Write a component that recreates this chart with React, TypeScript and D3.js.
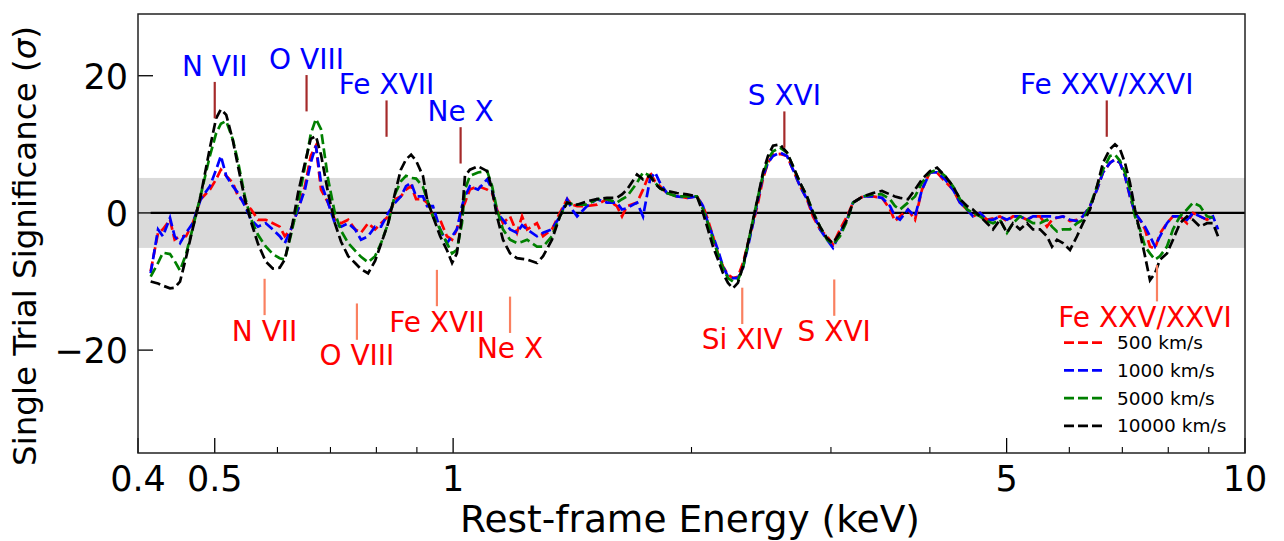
import React from "react";
import * as d3 from "d3";

// ---------- data ----------
const energy = [
  0.415, 0.424, 0.430, 0.439, 0.445, 0.452, 0.460, 0.469, 0.480, 0.493, 0.502, 0.509, 0.517, 0.527, 0.535, 0.546, 0.556, 0.567, 0.580, 0.592, 0.604, 0.613, 0.624, 0.637, 0.650, 0.661, 0.671, 0.681, 0.695, 0.709, 0.722, 0.737, 0.752, 0.765, 0.781, 0.797, 0.811, 0.828, 0.845, 0.859, 0.872, 0.885, 0.898, 0.916,
  0.927, 0.943, 0.963, 0.982, 0.997, 1.011, 1.026, 1.035, 1.050, 1.075, 1.104, 1.120, 1.136, 1.156, 1.180, 1.204, 1.222, 1.240, 1.276, 1.299, 1.333, 1.364, 1.393, 1.413, 1.434, 1.476, 1.519, 1.564, 1.610, 1.634, 1.658, 1.707, 1.737, 1.773, 1.799, 1.825, 1.862, 1.917, 1.974, 2.032, 2.068, 2.098,
  2.129, 2.160, 2.192, 2.224, 2.256, 2.289, 2.323, 2.357, 2.392, 2.427, 2.462, 2.498, 2.535, 2.587, 2.640, 2.687, 2.742, 2.798, 2.847, 2.906, 2.966, 3.018, 3.080, 3.143, 3.199, 3.293, 3.390, 3.480, 3.562, 3.614, 3.667, 3.753, 3.831, 3.909, 4.001, 4.084, 4.180, 4.278,
  4.366, 4.456, 4.534, 4.627, 4.723, 4.806, 4.904, 5.005, 5.093, 5.198, 5.305, 5.398, 5.509, 5.623, 5.705, 5.789, 5.890, 6.012, 6.135, 6.243, 6.372, 6.503, 6.617, 6.753, 6.852, 6.952, 7.054, 7.157, 7.262, 7.369, 7.477, 7.586, 7.697, 7.810, 7.970, 8.111, 8.277, 8.448, 8.597, 8.773, 8.954, 9.111, 9.245,
];

const sig500: (number | null)[] = [
  -8.5, -2.9, -2.4, -1, -3.9, -3.4, -3.4, -1.5, 2, 3.4, 4.9, 6.3, 5.4, 4.4, 2.4, 1.5, 0.5, -1, -1, -1.5, -2, -3.4, -2.4, 0.5, 3.9, 8.3, 9.8, 3.4, 1.5, -1, -1.5, -1, -2.4, -2.9, -1.5, -2.4, -1.5, -0.5, 2, 2.4, 3.4, 3.9, 2, 2,
  1.5, -0.5, -1, -3.4, -3.9, -2.4, 0.5, 1.5, 3.4, 3.9, 3.4, 2.9, 0.5, -1.5, -0.5, -2.9, -0.5, -2.4, -1.5, -3.4, -2.4, 0, 2, 1.2, 1, 1, 1.2, 2, 1, -0.5, 1, 1.5, 3.4, 5.9, 4.6, 3.9, 2.9, 2.4, 2.2, 2.4, 1, -1,
  -3.4, -5.9, -7.8, -9, -9.5, -9.3, -7.3, -4.4, -1.5, 1.5, 5, 7.3, 8.5, 8.6, 8.3, 6.3, 3.9, 2, -0.5, -2.4, -3.4, -4.6, -2.4, -0.5, 1.5, 2.4, 2.4, 2.2, 0.5, -1.2, -0.5, 0.5, -1, 3.4, 5.9, 5.9, 4.6, 3.4,
  1.5, 0.5, -0.5, 0, -1, -0.8, -0.5, -1.2, -0.5, -0.5, -1, -0.5, -0.5, -2, -1, -0.7, -0.5, -1.2, -1, -0.5, 1, 3.4, 5.9, 7.3, 7.8, 7.3, 5.4, 2.4, 0, -1, -2.4, -4.9, -5.2, -3, -1.5, -0.5, -0.5, -1.5, 0, -0.5, -1, -0.5, null,
];

const sig1000: (number | null)[] = [
  -8.8, -2.4, -3.4, -0.7, -3.4, -4.4, -2.9, -1.5, 2, 3.9, 6.3, 8.3, 5.4, 3.9, 2.9, 1, -1, -2, -1.5, -2.4, -3.4, -4.4, -2.4, 0.5, 3.4, 7.3, 9.8, 4.4, 1.5, -1.5, -2, -1.5, -2.4, -3.9, -3.4, -2, -2, 0, 1.5, 2.4, 3.9, 4.4, 2.4, 2.4,
  1, 1, -2.4, -4.4, -3.4, -2.4, 1, 2.4, 3.9, 3.4, 4.9, 3.4, 0, -1, -2.4, -2.9, -1.8, -2.4, -3.4, -2.9, -2.4, -0.5, 2, 0.5, -0.5, 1, 2, 1.5, 1.5, 0.5, 0.7, 1.5, -0.5, 4.9, 5.9, 4.4, 2.9, 2.4, 2.2, 2.4, 1, -1.5,
  -3.4, -5.4, -7.8, -9.3, -9.5, -9.5, -8, -4.9, -1.5, 2, 5.4, 7.3, 8.3, 8.8, 8.3, 6.3, 3.9, 2, 0, -2.4, -3.9, -5.1, -2.9, -1, 1.5, 2.4, 2.4, 2.2, 1, -0.5, -1, 0.5, -0.5, 3.4, 5.9, 5.9, 4.9, 3.4,
  1.5, 0.5, -0.5, 0, -1, -1, -0.5, -1, -0.5, -0.5, -1, -0.5, -0.5, -0.5, -0.5, -0.7, -0.5, -1, -1.2, -0.5, 1, 3.4, 5.9, 7.3, 7.8, 7.3, 5.4, 2.4, 0, -1, -2, -3.4, -4.9, -3.4, -1.5, -0.5, -0.5, -1, 0, -0.5, -1, -0.5, -2.4,
];

const sig5000: (number | null)[] = [
  -9.3, -7.3, -5.8, -6, -7, -8.4, -6, -2.2, 2.6, 8.3, 11.6, 13, 13.4, 10.7, 7.5, 2.3, -1, -3.2, -4.9, -6, -6.6, -6.8, -3.2, 1.4, 6.8, 11.5, 13.7, 12.2, 5, 0, -2.6, -4.4, -5.5, -6.4, -7.2, -6.3, -4.4, -1.5, 2.8, 4.6, 5.4, 5.1, 5, 3.8,
  2, -0.5, -2.4, -4.4, -5.9, -5.4, -1.5, 3.4, 5.4, 5.9, 6.1, 3.9, 0.5, -2.4, -3.9, -4.4, -4.2, -3.9, -4.9, -4.9, -3.4, -0.5, 1.5, 1.3, 1.2, 1.2, 2, 2, 1.5, 2, 2.4, 4.4, 5.9, 5.4, 4.4, 3.6, 2.9, 2.4, 2.4, 2.4, 0.5, -1.5,
  -3.9, -6, -8, -9.5, -10, -9.8, -8, -4.5, -1, 2.4, 5.5, 7.8, 9, 9.5, 8.8, 6.8, 4.4, 2.4, 0.2, -2, -3.9, -4.6, -3.4, -1.2, 1.5, 2.4, 2.7, 2.7, 2, 1, 0.5, 1.5, 2.4, 4.4, 5.9, 6.3, 5.4, 3.9,
  2, 0.5, 0, -0.5, -1.2, -1.5, -1, -2.9, -1.5, -0.5, -1, -1.5, -1.5, -1, -2, -2.7, -2.4, -2.4, -1.5, -1, 1, 3.9, 6.3, 8.3, 8.5, 7.6, 5.9, 3.4, -0.5, -2.4, -4.9, -5.9, -6.8, -6.3, -4.9, -2.4, -0.5, 0.5, 1.5, 1, -0.5, -0.7, null,
];

const sig10000: (number | null)[] = [
  -10, -10.3, -10.6, -11, -10.9, -10, -6.5, -2.3, 2.5, 9.5, 13.8, 15.1, 14.3, 10.6, 6.8, 1.9, -1.4, -4.5, -7.1, -8.1, -8, -6.8, -2.9, 2.9, 7.3, 10.8, 11.2, 8.5, 3, -1.5, -4.2, -6.3, -7.3, -8.2, -8.8, -7, -4.5, -1.5, 3, 6.3, 7.8, 8.5, 7.6, 5.4,
  2, -0.5, -3.4, -5.4, -7.3, -5.9, -0.5, 5.4, 6.3, 6.8, 6.1, 3.4, -0.5, -3.9, -5.9, -6.6, -6.7, -6.8, -7.3, -6.3, -3.9, -0.5, 1.5, 1.3, 1.2, 1.7, 2, 2.2, 2.2, 2.7, 3.4, 5.6, 4.9, 5.4, 4.3, 3.6, 3.2, 2.9, 2.7, 2.4, 0, -2.4,
  -4.9, -6.8, -8.8, -10.2, -11, -10.2, -7.8, -4.4, -1, 2.4, 5.9, 8.3, 9.8, 10, 8.8, 6.8, 4.4, 2.4, 0, -2, -3.7, -4.4, -2.9, -1, 1.5, 2.4, 2.9, 3.2, 2.7, 2.4, 2.2, 2, 3.4, 4.9, 6.1, 6.6, 5.4, 3.9,
  2, 1, 0.5, -0.5, -1.5, -2.4, -1, -2.9, -1.5, -2.4, -1.5, -2.4, -2.4, -3.4, -4.9, -3.9, -4.4, -5.4, -3.4, -1.5, 0.5, 3.9, 7.3, 9.3, 10, 9.3, 7.3, 4.4, 0.5, -2.9, -6.3, -9.8, -8.8, -6.8, -5.9, -3.9, -1.5, -0.5, -1, -2, -1.5, -1.5, -3.4,
];

const seriesLabels = ["500 km/s", "1000 km/s", "5000 km/s", "10000 km/s"];
const seriesColors = ["#ff0000", "#0000ff", "#008000", "#000000"];
const seriesValues = [sig500, sig1000, sig5000, sig10000];

// emission-line markers (upper, blue)
const emisNames = ["N VII", "O VIII", "Fe XVII", "Ne X", "S XVI", "Fe XXV/XXVI"];
const emisEnergy = [0.5, 0.653, 0.824, 1.022, 2.62, 6.69];
const emisLabelY = [20.0, 21.0, 17.3, 13.4, 15.7, 17.3];

// absorption-line markers (lower, red)
const absNames = ["N VII", "O VIII", "Fe XVII", "Ne X", "Si XIV", "S XVI", "Fe XXV/XXVI"];
const absEnergy = [0.578, 0.756, 0.954, 1.18, 2.318, 3.029, 7.742];
const absTextEnergy = [0.578, 0.756, 0.954, 1.18, 2.318, 3.029, 7.477];
const absLabelY = [-18.6, -22.2, -17.3, -21.2, -19.9, -18.7, -16.6];

const xTickMajor = [0.4, 0.5, 1, 5, 10];
const xTickMajorLabels = ["0.4", "0.5", "1", "5", "10"];
const xTickMinor = [0.6, 0.7, 0.8, 0.9, 2, 3, 4, 6, 7, 8, 9];
const yTicks = [-20, 0, 20];
const yTickLabels = ["\u221220", "0", "20"];
const bandHalfWidth = 5.1;

// ---------- layout ----------
const W = 1284;
const H = 541;
const L = 138, R = 1245, T = 14, B = 453;
const FONT = "DejaVu Sans, sans-serif";

export default function App() {
  const x = d3.scaleLog().domain([0.4, 10]).range([L, R]);
  const y = d3.scaleLinear().domain([-35, 29]).range([B, T]);

  const line = d3
    .line<[number, number | null]>()
    .defined((d) => d[1] !== null)
    .x((d) => x(d[0]))
    .y((d) => y(d[1] as number));

  const dash = "10 4.3";

  return (
    <svg width={W} height={H} style={{ position: "absolute", left: 0, top: 0 }} fontFamily={FONT}>
      <defs>
        <clipPath id="plot">
          <rect x={L} y={T} width={R - L} height={B - T} />
        </clipPath>
      </defs>
      <rect x={0} y={0} width={W} height={H} fill="#fff" />
      {/* band */}
      <rect x={L} y={y(bandHalfWidth)} width={R - L} height={y(-bandHalfWidth) - y(bandHalfWidth)} fill="#dadada" />
      {/* zero line */}
      <line x1={x(energy[0])} x2={x(10)} y1={y(0)} y2={y(0)} stroke="#000" strokeWidth={2.2} />

      {/* series */}
      <g clipPath="url(#plot)">
        {seriesValues.map((vals, i) => (
          <path
            key={i}
            d={line(energy.map((e, j) => [e, vals[j]] as [number, number | null])) || ""}
            fill="none"
            stroke={seriesColors[i]}
            strokeWidth={2.7}
            strokeDasharray={dash}
            strokeLinejoin="miter"
          />
        ))}
      </g>

      {/* emission markers */}
      {emisNames.map((n, i) => (
        <g key={"e" + i}>
          <line x1={x(emisEnergy[i])} x2={x(emisEnergy[i])} y1={y(emisLabelY[i] - 0.9)} y2={y(emisLabelY[i] - 6.2)} stroke="#a52a2a" strokeWidth={2.2} />
          <text x={x(emisEnergy[i])} y={y(emisLabelY[i])} textAnchor="middle" fontSize={28} fill="#0000ff">{n}</text>
        </g>
      ))}

      {/* absorption markers */}
      {absNames.map((n, i) => (
        <g key={"a" + i}>
          <line x1={x(absEnergy[i])} x2={x(absEnergy[i])} y1={y(absLabelY[i] + 3.7)} y2={y(absLabelY[i] + 9.0)} stroke="#fa8060" strokeWidth={2.2} />
          <text x={x(absTextEnergy[i])} y={y(absLabelY[i])} textAnchor="middle" fontSize={28} fill="#ff0000">{n}</text>
        </g>
      ))}

      {/* legend */}
      {seriesLabels.map((s, i) => {
        const ly = 342.7 + i * 27.7;
        return (
          <g key={"l" + i}>
            <line x1={1064} x2={1102} y1={ly} y2={ly} stroke={seriesColors[i]} strokeWidth={2.7} strokeDasharray="10 4" />
            <text x={1117} y={ly + 6.5} fontSize={18.5} fill="#000">{s}</text>
          </g>
        );
      })}

      {/* x ticks */}
      {xTickMajor.map((t, i) => (
        <g key={"xt" + i}>
          <line x1={x(t)} x2={x(t)} y1={B} y2={B - 15} stroke="#000" strokeWidth={1.3} />
          <text x={x(t)} y={491} textAnchor="middle" fontSize={35} fill="#000">{xTickMajorLabels[i]}</text>
        </g>
      ))}
      {xTickMinor.map((t, i) => (
        <line key={"xm" + i} x1={x(t)} x2={x(t)} y1={B} y2={B - 6} stroke="#000" strokeWidth={1.1} />
      ))}
      {/* y ticks */}
      {yTicks.map((t, i) => (
        <g key={"yt" + i}>
          <line x1={L} x2={L + 15} y1={y(t)} y2={y(t)} stroke="#000" strokeWidth={1.3} />
          <text x={128} y={y(t) + 12.8} textAnchor="end" fontSize={35} fill="#000">{yTickLabels[i]}</text>
        </g>
      ))}

      {/* frame */}
      <rect x={L} y={T} width={R - L} height={B - T} fill="none" stroke="#222" strokeWidth={1.5} />

      {/* axis labels */}
      <text x={690} y={532} textAnchor="middle" fontSize={37.5} fill="#000">Rest-frame Energy (keV)</text>
      <text transform={`translate(36,246) rotate(-90)`} textAnchor="middle" fontSize={32.5} fill="#000">
        Single Trial Significance (<tspan fontStyle="italic">σ</tspan>)
      </text>
    </svg>
  );
}
